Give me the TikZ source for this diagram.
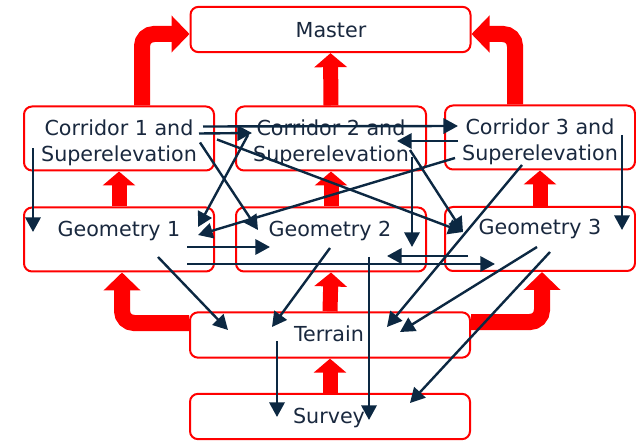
\documentclass[tikz,border=0pt]{standalone}
\usepackage{fontspec}
\setmainfont{DejaVu Sans}
\usetikzlibrary{arrows.meta}
\definecolor{navy}{RGB}{12,40,66}
\definecolor{txtcol}{RGB}{25,40,62}

\begin{document}
\begin{tikzpicture}[x=0.75pt, y=-0.75pt,
  box/.style={draw=red, line width=1.5pt, rounded corners=6pt, fill=white, inner sep=0pt},
  wide/.style={box, minimum width=210pt, minimum height=34pt},
  cell/.style={box, minimum width=142.5pt, minimum height=48pt},
  lbl/.style={anchor=base, text=txtcol, font=\fontsize{15.5}{20}\selectfont, align=center, inner sep=0pt},
  up/.style={red, line width=11.25pt, -{Triangle[length=10.5pt, width=24pt]}},
  bigup/.style={red, line width=12pt, rounded corners=9pt, -{Triangle[length=13.5pt, width=27pt]}},
  link/.style={navy, line width=1.8pt, -{Triangle[length=11pt, width=11.5pt]}}]
\useasboundingbox (0,0) rectangle (636,442);

% Boxes
\node[wide] (master) at (330.5,29.5) {};
\node[cell] (corr1) at (119,138.5) {};
\node[cell] (corr2) at (331,138.5) {};
\node[cell] (corr3) at (540,137.5) {};
\node[cell] (geo1) at (119,239.5) {};
\node[cell] (geo2) at (331,239.5) {};
\node[cell] (geo3) at (540,239) {};
\node[wide] (terrain) at (330,335) {};
\node[wide] (survey) at (330,416.5) {};

% Red arrows
\draw[bigup] ([shift={(23,0)}]corr1.north) |- ([shift={(0,4.5)}]master.west);
\draw[bigup] ([shift={(-25,0)}]corr3.north) |- ([shift={(0,4.5)}]master.east);
\draw[up] (corr2.north) -- (master.south);
\draw[up] (geo1.north) -- (corr1.south);
\draw[up] (geo2.north) -- (corr2.south);
\draw[up] (geo3.north) -- (corr3.south);
\draw[up] (terrain.north) -- (geo2.south);
\draw[up] (survey.north) -- (terrain.south);
\draw[bigup] ([shift={(0,-12)}]terrain.west) -| ([shift={(3,0)}]geo1.south);
\draw[bigup] ([shift={(0,-13)}]terrain.east) -| ([shift={(2,0)}]geo3.south);

% Texts
\node[lbl] (master-t) at (331,38) {Master};
\node[lbl] (corr1-t) at (119,162) {Corridor 1 and\\Superelevation};
\node[lbl] (corr2-t) at (331,162) {Corridor 2 and\\Superelevation};
\node[lbl] (corr3-t) at (540,161) {Corridor 3 and\\Superelevation};
\node[lbl] (geo1-t) at (119,237) {Geometry 1};
\node[lbl] (geo2-t) at (330,237) {Geometry 2};
\node[lbl] (geo3-t) at (540,235) {Geometry 3};
\node[lbl] (terrain-t) at (329,341) {Terrain};
\node[lbl] (survey-t) at (329,423) {Survey};

% Dependencies
\draw[link] ([shift={(-86,10)}]corr1.center) -- ([shift={(-86,-7.5)}]geo1.center);
\draw[link] ([shift={(84,-12)}]corr1.center) -- ([shift={(-82,-11.5)}]corr3.center);
\draw[link] ([shift={(80,-5)}]corr1.center) -- ([shift={(-79,-5.5)}]corr2.center);
\draw[link] ([shift={(81,4)}]corr1.center) -- ([shift={(-73,-9.5)}]geo2.center);
\draw[link] ([shift={(98,1)}]corr1.center) -- ([shift={(-77,-7)}]geo3.center);
\draw[link] ([shift={(-83,-3.5)}]corr2.center) -- ([shift={(79,-12.5)}]geo1.center);
\draw[link] ([shift={(-85,20.5)}]corr3.center) -- ([shift={(79,-4.5)}]geo1.center);
\draw[link] ([shift={(-82,3.5)}]corr3.center) -- ([shift={(66,2.5)}]corr2.center);
\draw[link] ([shift={(81,18.5)}]corr2.center) -- ([shift={(81,7.5)}]geo2.center);
\draw[link] ([shift={(79,11.5)}]corr2.center) -- ([shift={(-77,-7)}]geo3.center);
\draw[link] ([shift={(-18,27.5)}]corr3.center) -- ([shift={(57,-8)}]terrain.center);
\draw[link] ([shift={(82,-2.5)}]corr3.center) -- ([shift={(82,-9)}]geo3.center);
\draw[link] ([shift={(-3,8)}]geo3.center) -- ([shift={(70,-3)}]terrain.center);
\draw[link] ([shift={(10,13)}]geo3.center) -- ([shift={(80,-13.5)}]survey.center);
\draw[link] ([shift={(-72,17)}]geo3.center) -- ([shift={(56,16.5)}]geo2.center);
\draw[link] ([shift={(68,24.5)}]geo1.center) -- ([shift={(-45,25)}]geo3.center);
\draw[link] ([shift={(68,7.5)}]geo1.center) -- ([shift={(-61,7.5)}]geo2.center);
\draw[link] ([shift={(39,17.5)}]geo1.center) -- ([shift={(-102,-5)}]terrain.center);
\draw[link] ([shift={(-1,8.5)}]geo2.center) -- ([shift={(-58,-8)}]terrain.center);
\draw[link] ([shift={(38,17.5)}]geo2.center) -- ([shift={(39,3.5)}]survey.center);
\draw[link] ([shift={(-53,6)}]terrain.center) -- ([shift={(-53,0.5)}]survey.center);

\end{tikzpicture}
\end{document}
